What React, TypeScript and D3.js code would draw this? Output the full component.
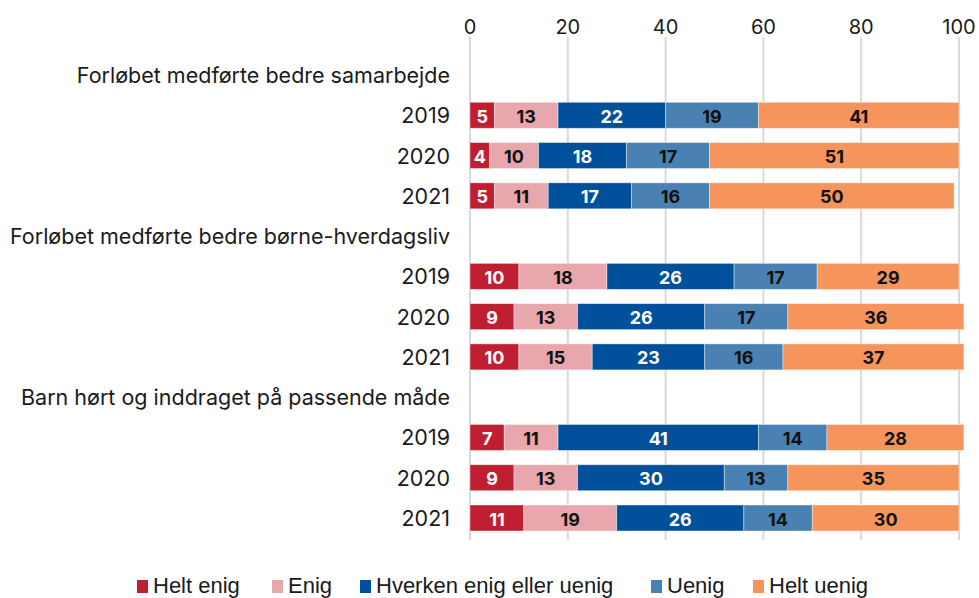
import * as d3 from "d3";

const ROWS = [
  "Forløbet medførte bedre samarbejde", "2019", "2020", "2021",
  "Forløbet medførte bedre børne-hverdagsliv", "2019", "2020", "2021",
  "Barn hørt og inddraget på passende måde", "2019", "2020", "2021",
];
const HEADERS = [0, 4, 8];

const SERIES = ["Helt enig", "Enig", "Hverken enig eller uenig", "Uenig", "Helt uenig"];
const COLORS = ["#c01f32", "#e8a6ad", "#00509b", "#4a81b3", "#f5945b"];
const TEXT_COLORS = ["#fff", "#111", "#fff", "#111", "#111"];

const heltEnig = [null, 5, 4, 5, null, 10, 9, 10, null, 7, 9, 11];
const enig = [null, 13, 10, 11, null, 18, 13, 15, null, 11, 13, 19];
const hverken = [null, 22, 18, 17, null, 26, 26, 23, null, 41, 30, 26];
const uenig = [null, 19, 17, 16, null, 17, 17, 16, null, 14, 13, 14];
const heltUenig = [null, 41, 51, 50, null, 29, 36, 37, null, 28, 35, 30];

const VALUES = [heltEnig, enig, hverken, uenig, heltUenig];
const TICKS = [0, 20, 40, 60, 80, 100];

const W = 979;
const H = 598;

export default function App() {
  const x = d3.scaleLinear().domain([0, 100]).range([470, 959]);
  const y = d3.scalePoint<number>().domain(d3.range(ROWS.length)).range([75, 518]);
  const barH = 26;
  const font = "Inter, 'Noto Sans', sans-serif";

  const stacks = ROWS.map((_, i) => {
    if (HEADERS.includes(i)) return [];
    let acc = 0;
    return VALUES.map((s, k) => {
      const v = s[i] as number;
      const seg = { k, v, x0: acc, x1: acc + v };
      acc += v;
      return seg;
    });
  });

  const legendX = [137, 272, 360, 651, 753];

  return (
    <svg width={W} height={H} style={{ position: "absolute", left: 0, top: 0, background: "#fff" }}>
      {TICKS.map((t) => (
        <g key={t}>
          <line x1={x(t)} x2={x(t)} y1={37} y2={540} stroke="#d9d9d9" strokeWidth={2} />
          <text x={x(t)} y={27} textAnchor="middle" dominantBaseline="central"
            fontFamily={font} fontSize={20} fill="#1a1a1a">{t}</text>
        </g>
      ))}
      {ROWS.map((r, i) => (
        <text key={i} x={450} y={y(i)} textAnchor="end" dominantBaseline="central"
          fontFamily={font} fontSize={21.5} fill="#1a1a1a">{r}</text>
      ))}
      {stacks.map((segs, i) =>
        segs.map((s) => (
          <g key={`${i}-${s.k}`}>
            <rect x={x(s.x0)} y={(y(i) as number) - barH / 2} width={x(s.x1) - x(s.x0)} height={barH}
              fill={COLORS[s.k]} stroke="#fff" strokeOpacity={0.5} strokeWidth={0.8} />
            <text x={(x(s.x0) + x(s.x1)) / 2} y={(y(i) as number) + 1} textAnchor="middle"
              dominantBaseline="central" fontFamily={font} fontSize={18} fontWeight={700}
              fill={TEXT_COLORS[s.k]}>{s.v}</text>
          </g>
        ))
      )}
      {SERIES.map((s, k) => (
        <g key={s}>
          <rect x={legendX[k]} y={580} width={11} height={13} fill={COLORS[k]} />
          <text x={legendX[k] + 16} y={585} dominantBaseline="central"
            fontFamily="'Liberation Sans', Arial, sans-serif" fontSize={22} fill="#1a1a1a">{s}</text>
        </g>
      ))}
    </svg>
  );
}
